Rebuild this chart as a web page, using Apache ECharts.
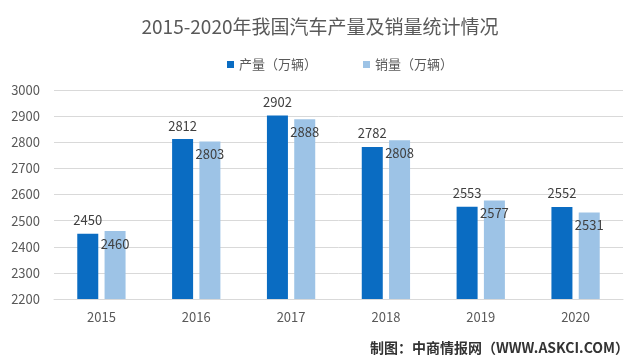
<!DOCTYPE html>
<html><head><meta charset="utf-8">
<script src="https://cdn.jsdelivr.net/npm/echarts@6/dist/echarts.min.js"></script>
<style>html,body{margin:0;padding:0;background:#fff}#c{width:640px;height:362px}</style>
</head><body><div id="c"></div>
<script>
const categories = ['2015','2016','2017','2018','2019','2020'];
const production = [2450, 2812, 2902, 2782, 2553, 2552];
const sales = [2460, 2803, 2888, 2808, 2577, 2531];
const seriesNames = ['产量（万辆）', '销量（万辆）'];
const titleText = '2015-2020年我国汽车产量及销量统计情况';
const sourceText = '制图：中商情报网（WWW.ASKCI.COM）';

const font = "'Noto Sans CJK SC', 'Noto Sans', sans-serif";
const chart = echarts.init(document.getElementById('c'), null, {renderer:'canvas'});
chart.setOption({
  animation: false,
  backgroundColor: '#fff',
  title: [{
    text: titleText, left: 'center', top: 12,
    textStyle: {fontFamily: font, fontSize: 19, fontWeight: 'normal', color: '#595959'}
  },{
    text: sourceText, right: 6, top: 336,
    textStyle: {fontFamily: font, fontSize: 14, fontWeight: 'bold', color: '#333'}
  }],
  legend: {
    top: 53, left: 222, itemWidth: 7, itemHeight: 7, itemGap: 46,
    icon: 'rect',
    textStyle: {fontFamily: font, fontSize: 13, color: '#595959'},
    data: seriesNames
  },
  grid: {left: 54, right: 17, top: 90, height: 209, containLabel: false},
  xAxis: {
    type: 'category', data: categories,
    axisLine: {show: true, lineStyle: {color: '#d9d9d9'}},
    axisTick: {show: false},
    axisLabel: {fontFamily: font, fontSize: 13, color: '#595959', margin: 12}
  },
  yAxis: {
    type: 'value', min: 2200, max: 3000, interval: 100,
    axisLine: {show: false}, axisTick: {show: false},
    splitLine: {lineStyle: {color: '#d9d9d9'}},
    axisLabel: {fontFamily: font, fontSize: 13, color: '#595959', margin: 14,
      formatter: v => String(v)}
  },
  series: [{
    name: seriesNames[0], type: 'bar', data: production,
    barWidth: 21, barGap: '30%',
    itemStyle: {color: '#0a6cc2'},
    label: {show: true, position: 'top', distance: 7, fontFamily: font, fontSize: 13, color: '#404040'}
  },{
    name: seriesNames[1], type: 'bar', data: sales,
    barWidth: 21,
    itemStyle: {color: '#9dc3e6'},
    label: {show: true, position: 'insideTop', distance: 6, fontFamily: font, fontSize: 13, color: '#404040'}
  }]
});
</script></body></html>
